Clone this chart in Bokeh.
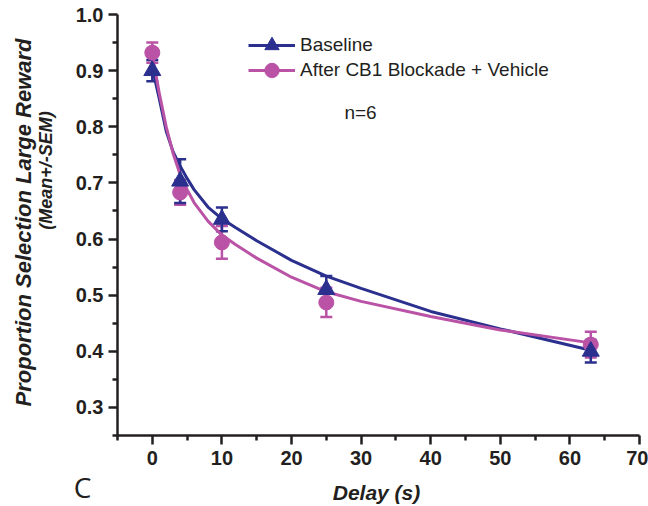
from bokeh.plotting import figure
from bokeh.models import (Range1d, FixedTicker, NumeralTickFormatter, Whisker, TeeHead,
                          ColumnDataSource, Legend, LegendItem, Label)
from bokeh.embed import file_html
from bokeh.resources import INLINE
import math

# ---- data ----
delays = [0, 4, 10, 25, 63]
baseline = [0.900, 0.703, 0.635, 0.510, 0.400]
baseline_sem = [0.019, 0.039, 0.021, 0.024, 0.020]
cb1 = [0.932, 0.683, 0.594, 0.487, 0.412]
cb1_sem = [0.018, 0.022, 0.029, 0.026, 0.023]

# fitted curves
fit_x = [0, 1, 2, 3, 4, 5, 6, 8, 10, 12, 15, 20, 25, 30, 40, 50, 63]
fit_baseline = [0.905, 0.850, 0.792, 0.755, 0.730, 0.708, 0.688, 0.657, 0.636, 0.620,
                0.597, 0.562, 0.534, 0.512, 0.471, 0.440, 0.402]
fit_cb1 = [0.928, 0.860, 0.800, 0.752, 0.715, 0.688, 0.665, 0.632, 0.607, 0.590,
           0.566, 0.532, 0.506, 0.489, 0.462, 0.438, 0.415]

x_ticks = [0, 10, 20, 30, 40, 50, 60, 70]
x_minor = [-5, 5, 15, 25, 35, 45, 55, 65]
y_ticks = [0.3, 0.4, 0.5, 0.6, 0.7, 0.8, 0.9, 1.0]
y_minor = [0.25, 0.35, 0.45, 0.55, 0.65, 0.75, 0.85, 0.95]

series_names = ["Baseline", "After CB1 Blockade + Vehicle"]
NAVY = "#2B2F8E"
PINK = "#BA52A6"
INK = "#231F20"
FONT = "Liberation Sans"

p = figure(width=648, height=506, output_backend="svg", toolbar_location=None,
           x_range=Range1d(-5, 70), y_range=Range1d(0.25, 1.0),
           min_border_left=117, min_border_right=9, min_border_top=14, min_border_bottom=71)
p.outline_line_color = None
p.xgrid.visible = False
p.ygrid.visible = False
p.background_fill_color = "white"
p.border_fill_color = "white"

for ax in (p.xaxis[0], p.yaxis[0]):
    ax.axis_line_color = INK
    ax.axis_line_width = 2.5
    ax.major_tick_line_color = INK
    ax.major_tick_line_width = 2.5
    ax.minor_tick_line_color = INK
    ax.minor_tick_line_width = 2.5
    ax.major_tick_in = 0
    ax.major_tick_out = 9
    ax.minor_tick_in = 0
    ax.minor_tick_out = 5
    ax.major_label_text_font = FONT
    ax.major_label_text_font_style = "bold"
    ax.major_label_text_font_size = "20px"
    ax.major_label_text_color = INK

p.xaxis[0].ticker = FixedTicker(ticks=x_ticks, minor_ticks=x_minor)
p.yaxis[0].ticker = FixedTicker(ticks=y_ticks, minor_ticks=y_minor)
p.yaxis[0].formatter = NumeralTickFormatter(format="0.0")
p.xaxis[0].major_label_standoff = 6
p.yaxis[0].major_label_standoff = 5

# error bars
src_b = ColumnDataSource(dict(x=delays, lo=[m - s for m, s in zip(baseline, baseline_sem)],
                              hi=[m + s for m, s in zip(baseline, baseline_sem)]))
src_c = ColumnDataSource(dict(x=delays, lo=[m - s for m, s in zip(cb1, cb1_sem)],
                              hi=[m + s for m, s in zip(cb1, cb1_sem)]))
for src, col in ((src_c, PINK), (src_b, NAVY)):
    w = Whisker(base="x", lower="lo", upper="hi", source=src, line_color=col, line_width=2.5,
                upper_head=TeeHead(size=12, line_color=col, line_width=2.5),
                lower_head=TeeHead(size=12, line_color=col, line_width=2.5))
    p.add_layout(w)

l_b = p.line(fit_x, fit_baseline, line_color=NAVY, line_width=3)
l_c = p.line(fit_x, fit_cb1, line_color=PINK, line_width=3)
m_c = p.scatter(delays, cb1, marker="circle", size=15, fill_color=PINK, line_color=PINK)
m_b = p.scatter(delays, baseline, marker="triangle", size=17, fill_color=NAVY, line_color=NAVY)

legend_style = dict(glyph_width=47, glyph_height=36, label_height=36, spacing=0,
                    padding=0, margin=0, label_standoff=5,
                    label_text_font=FONT, label_text_font_size="19px", label_text_color=INK,
                    border_line_alpha=0, background_fill_alpha=0)
p.add_layout(Legend(items=[LegendItem(label=series_names[0], renderers=[l_b, m_b])],
                    location=(131, 372), **legend_style))
p.add_layout(Legend(items=[LegendItem(label=series_names[1], renderers=[l_c, m_c])],
                    location=(131, 347), **legend_style))

p.add_layout(Label(x=243, y=323, x_units="screen", y_units="screen", text="n=6",
                   text_font=FONT, text_font_size="19px", text_color=INK,
                   text_align="center", text_baseline="middle"))

# y-axis title (two lines) and panel letter in left side panels (not clipped)
p.add_layout(Label(x=-7, y=265, x_units="screen", y_units="screen",
                   text="(Mean+/-SEM)", angle=math.pi / 2,
                   text_font=FONT, text_font_style="bold italic", text_font_size="18px",
                   text_color=INK, text_align="center", text_baseline="middle"), "left")
p.add_layout(Label(x=-4, y=213, x_units="screen", y_units="screen",
                   text="Proportion Selection Large Reward", angle=math.pi / 2,
                   text_font=FONT, text_font_style="bold italic", text_font_size="22px",
                   text_color=INK, text_align="center", text_baseline="middle"), "left")
p.add_layout(Label(x=73, y=-51, x_units="screen", y_units="screen", text="C",
                   text_font="Open Sans", text_font_size="28px", text_color=INK,
                   text_align="center", text_baseline="middle"), "left")

# x-axis title in a below panel
p.add_layout(Label(x=259, y=-2, x_units="screen", y_units="screen", text="Delay (s)",
                   text_font=FONT, text_font_style="bold italic", text_font_size="21px",
                   text_color=INK, text_align="center", text_baseline="alphabetic"), "below")

open("out.html", "w").write(file_html(p, INLINE))
